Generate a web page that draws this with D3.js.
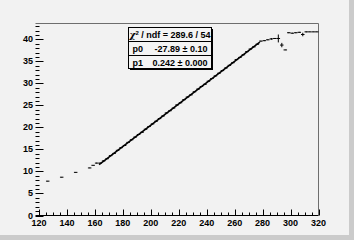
<!DOCTYPE html>
<html>
<head>
<meta charset="utf-8">
<script src="https://cdn.jsdelivr.net/npm/d3@7"></script>
<style>
  html, body { margin: 0; padding: 0; background: #f2f2f2; }
  svg { display: block; }
</style>
</head>
<body>
<svg id="chart" width="354" height="240"></svg>
<script>
// bin centers (bin width 2.5) and contents
const binCenters = [126.25, 136.25, 146.25, 156.25, 158.75, 161.25, 163.75, 166.25, 168.75, 171.25,
  173.75, 176.25, 178.75, 181.25, 183.75, 186.25, 188.75, 191.25, 193.75, 196.25,
  198.75, 201.25, 203.75, 206.25, 208.75, 211.25, 213.75, 216.25, 218.75, 221.25,
  223.75, 226.25, 228.75, 231.25, 233.75, 236.25, 238.75, 241.25, 243.75, 246.25,
  248.75, 251.25, 253.75, 256.25, 258.75, 261.25, 263.75, 266.25, 268.75, 271.25,
  273.75, 276.25, 278.75, 281.25, 283.75, 286.25, 288.75, 291.25, 293.75, 296.25,
  298.75, 301.25, 303.75, 306.25, 308.75, 311.25, 313.75, 316.25, 318.75];
const binValues = [7.8, 8.7, 9.8, 10.8, 11.4, 11.9, 11.9, 12.4, 12.9, 13.6,
  14.1, 14.8, 15.4, 15.9, 16.6, 17.2, 17.8, 18.4, 18.9, 19.6,
  20.2, 20.8, 21.4, 22.0, 22.6, 23.3, 23.8, 24.4, 25.1, 25.6,
  26.3, 26.9, 27.4, 28.1, 28.7, 29.3, 29.8, 30.5, 31.1, 31.7,
  32.3, 32.9, 33.5, 34.1, 34.7, 35.4, 35.9, 36.5, 37.2, 37.8,
  38.3, 38.9, 39.6, 39.7, 39.9, 40.1, 40.2, 40.2, 38.7, 37.6,
  41.5, 41.4, 41.5, 41.6, 41.1, 41.7, 41.7, 41.7, 41.7];
const binErrors = [0.05, 0.05, 0.05, 0.05, 0.05, 0.1, 0.1, 0.1, 0.1, 0.1,
  0.1, 0.1, 0.1, 0.1, 0.1, 0.1, 0.1, 0.1, 0.1, 0.1,
  0.1, 0.1, 0.1, 0.1, 0.1, 0.1, 0.1, 0.1, 0.1, 0.1,
  0.1, 0.1, 0.1, 0.1, 0.1, 0.1, 0.1, 0.1, 0.1, 0.1,
  0.1, 0.1, 0.1, 0.1, 0.1, 0.1, 0.1, 0.1, 0.1, 0.1,
  0.1, 0.1, 0.1, 0.1, 0.1, 0.2, 0.1, 0.9, 0.5, 0.05,
  0.1, 0.1, 0.1, 0.1, 0.4, 0.1, 0.05, 0.05, 0.05];
const binWidth = 2.5;

// linear fit p0 + p1*x
const fitParams = [-27.89, 0.242];
const fitRange = [163, 278];

const xTicks = [120, 140, 160, 180, 200, 220, 240, 260, 280, 300, 320];
const yTicks = [0, 5, 10, 15, 20, 25, 30, 35, 40];

const statsRows = [
  ['p0', '-27.89 \u00b1 0.10'],
  ['p1', '0.242 \u00b1 0.000']
];

const svg = d3.select('#chart');

// canvas with grey border on right / bottom
svg.append('rect').attr('width', 354).attr('height', 240).attr('fill', '#cbcbcb');
svg.append('rect').attr('width', 349).attr('height', 235).attr('fill', '#f2f2f2');

const x = d3.scaleLinear().domain([117.5, 320]).range([35.5, 318.5]);
const y = d3.scaleLinear().domain([0, 43.6]).range([215.5, 23.5]);

const axisColor = '#000';
const labelFont = 'Liberation Sans, Arial, sans-serif';

// frame (left edge not drawn in the original)
svg.append('path')
  .attr('d', `M${x.range()[0]},${y.range()[1]}H${x.range()[1]}V${y.range()[0]}`)
  .attr('fill', 'none')
  .attr('stroke', '#6e6e6e');
svg.append('line')
  .attr('x1', x.range()[0]).attr('x2', x.range()[1])
  .attr('y1', y.range()[0]).attr('y2', y.range()[0])
  .attr('stroke', axisColor);

// x ticks drawn upward inside the frame
const xMinor = d3.range(120, 320.1, 5);
svg.append('g').selectAll('line')
  .data(xMinor)
  .join('line')
  .attr('x1', d => Math.round(x(d)) + 0.5)
  .attr('x2', d => Math.round(x(d)) + 0.5)
  .attr('y1', y.range()[0])
  .attr('y2', d => y.range()[0] - (d % 20 === 0 ? 6 : 3))
  .attr('stroke', axisColor);

svg.append('g').selectAll('text')
  .data(xTicks)
  .join('text')
  .attr('x', d => x(d))
  .attr('y', 225.5)
  .attr('text-anchor', 'middle')
  .attr('font-family', labelFont)
  .attr('font-weight', 'bold')
  .attr('font-size', 9)
  .text(d => d);

// y ticks drawn rightward inside the frame
const yMinor = d3.range(0, 43.1, 1);
svg.append('g').selectAll('line')
  .data(yMinor)
  .join('line')
  .attr('x1', x.range()[0])
  .attr('x2', d => x.range()[0] + (d % 5 === 0 ? 8 : 4))
  .attr('y1', d => Math.round(y(d)) + 0.5)
  .attr('y2', d => Math.round(y(d)) + 0.5)
  .attr('stroke', axisColor);

svg.append('g').selectAll('text')
  .data(yTicks)
  .join('text')
  .attr('x', 33)
  .attr('y', d => y(d) + 3)
  .attr('text-anchor', 'end')
  .attr('font-family', labelFont)
  .attr('font-weight', 'bold')
  .attr('font-size', 9)
  .text(d => d);

// histogram bins with error bars
const bins = binCenters.map((c, i) => ({ c, v: binValues[i], e: binErrors[i] }));
const g = svg.append('g').attr('stroke', '#000').attr('stroke-width', 1);
g.selectAll('.hbar')
  .data(bins)
  .join('line')
  .attr('class', 'hbar')
  .attr('x1', d => x(d.c - binWidth / 2))
  .attr('x2', d => x(d.c + binWidth / 2))
  .attr('y1', d => y(d.v))
  .attr('y2', d => y(d.v));
g.selectAll('.vbar')
  .data(bins)
  .join('line')
  .attr('class', 'vbar')
  .attr('x1', d => x(d.c))
  .attr('x2', d => x(d.c))
  .attr('y1', d => y(d.v - d.e))
  .attr('y2', d => y(d.v + d.e));

// fit line
const fitLine = d3.line()
  .x(d => x(d))
  .y(d => y(fitParams[0] + fitParams[1] * d));
svg.append('path')
  .datum(fitRange)
  .attr('d', fitLine)
  .attr('fill', 'none')
  .attr('stroke', '#000')
  .attr('stroke-width', 1.6);

// stats box
const box = { x: 128.5, y: 27.5, w: 83, h: 41 };
svg.append('rect')
  .attr('x', box.x + 1.5).attr('y', box.y + 1.5)
  .attr('width', box.w).attr('height', box.h)
  .attr('fill', '#000');
svg.append('rect')
  .attr('x', box.x).attr('y', box.y)
  .attr('width', box.w).attr('height', box.h)
  .attr('fill', '#f4f4f4')
  .attr('stroke', '#000');
[41.5, 55.5].forEach(yy => {
  svg.append('line')
    .attr('x1', box.x).attr('x2', box.x + box.w)
    .attr('y1', yy).attr('y2', yy)
    .attr('stroke', '#000');
});

const title = svg.append('text')
  .attr('x', box.x + box.w / 2)
  .attr('y', 38)
  .attr('text-anchor', 'middle')
  .attr('font-family', labelFont)
  .attr('font-size', 9)
  .attr('font-weight', 'bold');
title.append('tspan').attr('font-style', 'italic').attr('font-family', 'DejaVu Serif, serif').text('\u03c7');
title.append('tspan').attr('font-size', 6).attr('dy', -3).text('2');
title.append('tspan').attr('dy', 3).text(' / ndf = 289.6 / 54');

statsRows.forEach((row, i) => {
  const yy = 52 + i * 13.5;
  svg.append('text')
    .attr('x', box.x + 4).attr('y', yy)
    .attr('font-family', labelFont).attr('font-size', 9).attr('font-weight', 'bold')
    .text(row[0]);
  svg.append('text')
    .attr('x', box.x + box.w - 4).attr('y', yy)
    .attr('text-anchor', 'end')
    .attr('font-family', labelFont).attr('font-size', 9).attr('font-weight', 'bold')
    .text(row[1]);
});
</script>
</body>
</html>
